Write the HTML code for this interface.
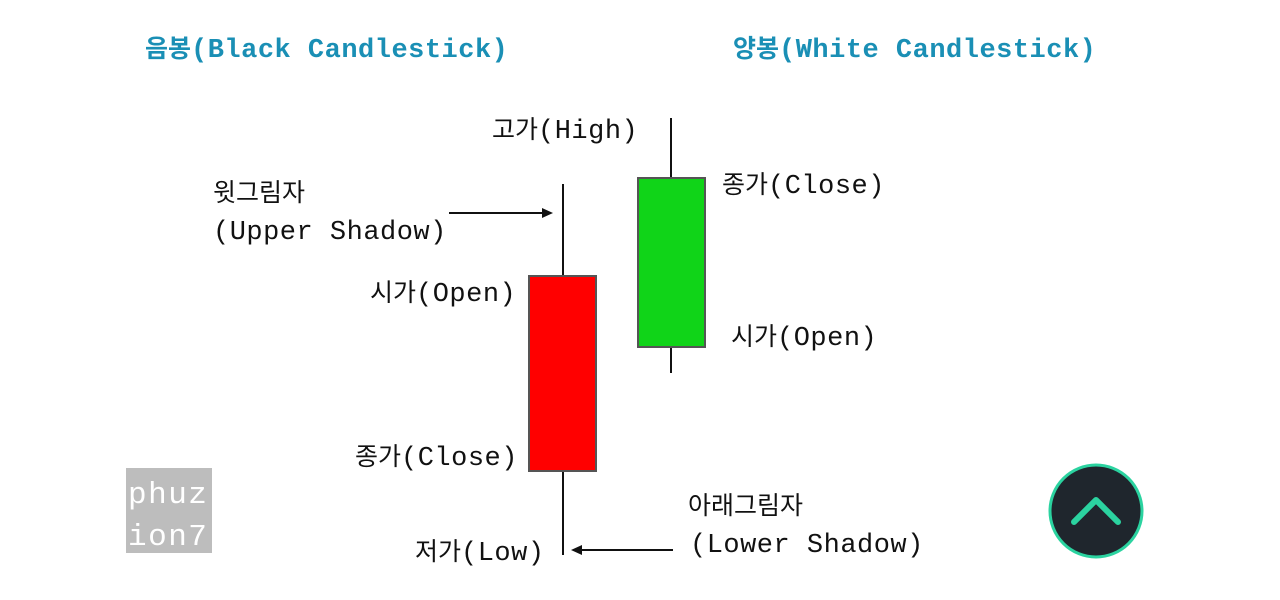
<!DOCTYPE html>
<html><head><meta charset="utf-8"><style>
body{margin:0;width:1280px;height:600px;background:#fff;position:relative;overflow:hidden;font-family:"Liberation Mono","Noto Sans CJK KR",monospace;}
.t{position:absolute;font-size:27px;line-height:30px;letter-spacing:0.5px;color:#111;white-space:nowrap}
.t span{letter-spacing:0;font-size:25px}
.h{color:#1a8fb5;font-weight:bold}
.h span{font-size:25px}
</style></head><body>
<div class="t h" style="left:145px;top:36px"><span>음봉</span>(Black Candlestick)</div>
<div class="t h" style="left:733px;top:36px"><span>양봉</span>(White Candlestick)</div>
<div class="t" style="left:492px;top:117px"><span>고가</span>(High)</div>
<div class="t" style="left:722px;top:172px"><span>종가</span>(Close)</div>
<div class="t" style="left:213px;top:180px"><span>윗그림자</span></div>
<div class="t" style="left:213px;top:218px">(Upper Shadow)</div>
<div class="t" style="left:370px;top:280px"><span>시가</span>(Open)</div>
<div class="t" style="left:731px;top:324px"><span>시가</span>(Open)</div>
<div class="t" style="left:355px;top:444px"><span>종가</span>(Close)</div>
<div class="t" style="left:415px;top:539px"><span>저가</span>(Low)</div>
<div class="t" style="left:688px;top:493px"><span>아래그림자</span></div>
<div class="t" style="left:690px;top:531px">(Lower Shadow)</div>
<svg width="1280" height="600" style="position:absolute;left:0;top:0">
<line x1="563" y1="184" x2="563" y2="555" stroke="#111" stroke-width="2"/>
<rect x="529" y="276" width="67" height="195" fill="#ff0000" stroke="#555" stroke-width="2"/>
<line x1="671" y1="118" x2="671" y2="373" stroke="#111" stroke-width="2"/>
<rect x="638" y="178" width="67" height="169" fill="#10d418" stroke="#555" stroke-width="2"/>
<line x1="449" y1="213" x2="545" y2="213" stroke="#111" stroke-width="2"/>
<polygon points="553,213 542,208 542,218" fill="#111"/>
<line x1="580" y1="550" x2="673" y2="550" stroke="#111" stroke-width="2"/>
<polygon points="571,550 582,545 582,555" fill="#111"/>
<rect x="126" y="468" width="86" height="85" fill="#bdbdbd"/>
<text x="128" y="503" font-family="Liberation Mono" font-size="31" letter-spacing="1.5" fill="#fff">phuz</text>
<text x="128" y="545" font-family="Liberation Mono" font-size="31" letter-spacing="1.5" fill="#fff">ion7</text>
<circle cx="1096" cy="511" r="46" fill="#1f262d" stroke="#2bd3a0" stroke-width="3"/>
<polyline points="1074,522 1096,500 1118,522" fill="none" stroke="#2bd3a0" stroke-width="6" stroke-linecap="round" stroke-linejoin="round"/>
</svg>
</body></html>
